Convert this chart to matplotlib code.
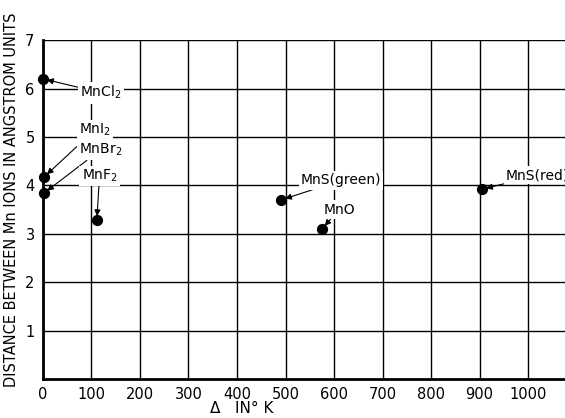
import matplotlib.pyplot as plt

# 数据：Mn 化合物的 Δ (°K) 与 Mn 离子间距 (Å)
compounds = ['MnCl$_2$', 'MnI$_2$', 'MnBr$_2$', 'MnF$_2$', 'MnS(green)', 'MnO', 'MnS(red)']
delta_k = [0, 2, 2, 111, 491, 575, 905]
distance = [6.2, 4.17, 3.84, 3.28, 3.70, 3.10, 3.92]

x_ticks = list(range(0, 1001, 100))
y_ticks = [1, 2, 3, 4, 5, 6, 7]

plt.rcParams['font.family'] = ['DejaVu Sans']

fig = plt.figure(figsize=(5.65, 4.18), dpi=100)
ax = fig.add_axes([0.076, 0.093, 0.924, 0.811])

ax.scatter(delta_k, distance, s=50, color='black', zorder=5, clip_on=False)

# 标注文字相对点的偏移（points）
offsets = [(27, -10), (25, 34), (25, 31), (2, 32), (14, 14), (1, 14), (17, 10)]
aligns = ['left', 'left', 'left', 'center', 'left', 'left', 'left']
for name, x, y, off, ha in zip(compounds, delta_k, distance, offsets, aligns):
    ax.annotate(name, xy=(x, y), xytext=off, textcoords='offset points',
                ha=ha, va='center', fontsize=10, zorder=6,
                bbox=dict(boxstyle='square,pad=0.15', fc='white', ec='none'),
                arrowprops=dict(arrowstyle='-|>', color='black', lw=0.8,
                                mutation_scale=9, shrinkA=0, shrinkB=3))

ax.set_xlim(0, 1076)
ax.set_ylim(0, 7)
ax.set_xticks(x_ticks)
ax.set_yticks(y_ticks)
ax.tick_params(length=0, labelsize=10.5, pad=6)
ax.grid(True, color='black', lw=1.0)
for s in ['top', 'right']:
    ax.spines[s].set_visible(False)
for s in ['left', 'bottom']:
    ax.spines[s].set_linewidth(2)

ax.set_xlabel('Δ   IN° K', fontsize=11)
ax.xaxis.set_label_coords(0.38, -0.065)
ax.set_ylabel('DISTANCE BETWEEN Mn IONS IN ANGSTROM UNITS', fontsize=10.5)
ax.yaxis.set_label_coords(-0.045, 0.53)

plt.savefig('out.png', dpi=100)
